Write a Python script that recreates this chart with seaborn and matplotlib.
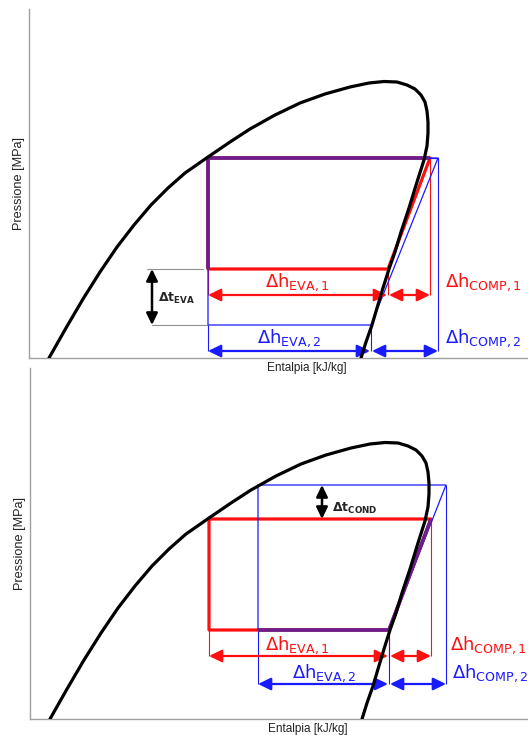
import matplotlib
matplotlib.use("Agg")
import matplotlib.pyplot as plt
import seaborn as sns
import pandas as pd

# ---------------- data (arbitrary enthalpy / pressure units) ----------------
dome_h = [20, 37, 54, 71, 88, 105, 122, 139, 156, 179, 201, 221, 246, 271, 296, 321, 340, 355,
          368, 378, 386, 392, 396, 398, 399, 399, 398, 395, 388, 380, 372, 366, 360, 354, 348,
          343, 337, 332]
dome_p = [0, 30, 59, 86, 111, 133, 153, 170, 185, 201, 216, 229, 243, 255, 264, 271, 275, 276.5,
          276, 273, 269, 263, 256, 247, 236, 225, 212, 198, 176, 150, 126, 106, 89, 70, 50,
          33, 16, 0]

# reference cycle 1 (same in both panels)
cycle1 = dict(h_liq=179, h_vap=359, h_dis=401, p_evap=89, p_cond=200)
# cycle 2, top panel: lower evaporating temperature
cycle2_top = dict(h_liq=179, h_vap=342, h_dis=409, p_evap=33, p_cond=200)
# cycle 2, bottom panel: higher condensing temperature
cycle2_bot = dict(h_liq=228, h_vap=359, h_dis=416, p_evap=89, p_cond=234)

RED = "#ff1010"
BLUE = "#1a1aff"
PURPLE = "#6e1e8c"

sns.set_theme(style="white")
plt.rcParams["font.family"] = ["Liberation Sans", "DejaVu Sans"]
plt.rcParams["mathtext.fontset"] = "dejavusans"

fig = plt.figure(figsize=(5.28, 7.35), dpi=100)
W, H = 528, 735
ax_top = fig.add_axes([29 / W, (H - 358) / H, 499 / W, 349 / H])
ax_bot = fig.add_axes([30 / W, 16 / H, 498 / W, 351 / H])


def cycle_frame(c):
    return pd.DataFrame({
        "h": [c["h_liq"], c["h_liq"], c["h_vap"], c["h_dis"], c["h_liq"]],
        "p": [c["p_cond"], c["p_evap"], c["p_evap"], c["p_cond"], c["p_cond"]],
    })


def vline(ax, h, p0, p1, color, lw=0.8):
    ax.plot([h, h], [p0, p1], color=color, lw=lw, solid_capstyle="butt")


def darrow(ax, x0, y0, x1, y1, color, lw=1.6, ms=11):
    ax.annotate("", xy=(x1, y1), xytext=(x0, y0),
                arrowprops=dict(arrowstyle="<|-|>,head_length=0.7,head_width=0.34",
                                color=color, lw=lw, mutation_scale=ms,
                                shrinkA=0, shrinkB=0), zorder=5)


def base(ax, xmax, ymax):
    ax.set_xlim(0, xmax)
    ax.set_ylim(0, ymax)
    ax.set_xticks([])
    ax.set_yticks([])
    for s in ["top", "right"]:
        ax.spines[s].set_visible(False)
    for s in ["left", "bottom"]:
        ax.spines[s].set_color("#a0a0a0")
        ax.spines[s].set_linewidth(1.0)
    ax.set_xlabel("Entalpia [kJ/kg]", fontsize=8.5, color="#222222")
    ax.set_ylabel("Pressione [MPa]", fontsize=9.2, color="#222222")
    ax.xaxis.set_label_coords(0.557, -0.012)
    ax.yaxis.set_label_coords(-0.008, 0.5)
    ax.patch.set_alpha(0)


def dome(ax):
    sns.lineplot(x=dome_h, y=dome_p, sort=False, estimator=None, color="black",
                 lw=2.3, ax=ax, zorder=6)
    ax.lines[-1].set_solid_joinstyle("round")
    ax.lines[-1].set_solid_capstyle("round")


lab = dict(fontsize=13, va="baseline", ha="left")

# ---------------- top panel ----------------
ax = ax_top
base(ax, 499, 349)
c1, c2 = cycle1, cycle2_top
sns.lineplot(data=cycle_frame(c1), x="h", y="p", sort=False, estimator=None,
             color=RED, lw=2.3, ax=ax, zorder=3)
sns.lineplot(data=cycle_frame(c2), x="h", y="p", sort=False, estimator=None,
             color=BLUE, lw=0.9, ax=ax, zorder=3)
# shared segments (overlap of both cycles)
ax.plot([c1["h_liq"], c1["h_liq"], c1["h_dis"]], [c1["p_evap"], c1["p_cond"], c1["p_cond"]],
        color=PURPLE, lw=2.7, zorder=4, solid_joinstyle="miter", solid_capstyle="butt")
ax.plot([c1["h_dis"], c2["h_dis"]], [c1["p_cond"], c2["p_cond"]], color=BLUE, lw=0.9, zorder=4)
y_r, y_b = 63, 7
vline(ax, c1["h_liq"], c1["p_evap"], y_r, RED)
vline(ax, c1["h_vap"], c1["p_evap"], y_r, RED)
vline(ax, c1["h_dis"], c1["p_cond"], y_r, RED)
vline(ax, c2["h_liq"], c2["p_evap"], y_b, BLUE)
vline(ax, c2["h_vap"], c2["p_evap"], y_b, BLUE)
vline(ax, c2["h_dis"], c2["p_cond"], y_b, BLUE)
darrow(ax, c1["h_liq"], y_r, c1["h_vap"] - 1, y_r, RED)
darrow(ax, c1["h_vap"] + 1, y_r, c1["h_dis"], y_r, RED)
darrow(ax, c2["h_liq"], y_b, c2["h_vap"] - 1, y_b, BLUE)
darrow(ax, c2["h_vap"] + 1, y_b, c2["h_dis"], y_b, BLUE)
# delta t evaporation
ax.plot([118, c1["h_liq"] - 5], [c1["p_evap"], c1["p_evap"]], color="#909090", lw=0.8)
ax.plot([123, c2["h_liq"]], [c2["p_evap"], c2["p_evap"]], color="#909090", lw=0.8)
darrow(ax, 123, c1["p_evap"], 123, c2["p_evap"], "black", lw=1.8, ms=10)
ax.text(129, 56, r"$\mathbf{\Delta t}_{\mathbf{EVA}}$", fontsize=9, va="baseline", ha="left")
ax.text(236, 71, r"$\Delta\mathrm{h}_{\mathrm{EVA,1}}$", color=RED, **lab)
ax.text(416, 71, r"$\Delta\mathrm{h}_{\mathrm{COMP,1}}$", color=RED, **lab)
ax.text(228, 15, r"$\Delta\mathrm{h}_{\mathrm{EVA,2}}$", color=BLUE, **lab)
ax.text(416, 15, r"$\Delta\mathrm{h}_{\mathrm{COMP,2}}$", color=BLUE, **lab)
dome(ax)

# ---------------- bottom panel ----------------
ax = ax_bot
base(ax, 498, 351)
c1, c2 = cycle1, cycle2_bot
sns.lineplot(data=cycle_frame(c1), x="h", y="p", sort=False, estimator=None,
             color=RED, lw=2.3, ax=ax, zorder=3)
sns.lineplot(data=cycle_frame(c2), x="h", y="p", sort=False, estimator=None,
             color=BLUE, lw=0.9, ax=ax, zorder=4)
ax.plot([c2["h_liq"], c1["h_vap"], c1["h_dis"]], [c1["p_evap"], c1["p_evap"], c1["p_cond"]],
        color=PURPLE, lw=2.7, zorder=4, solid_joinstyle="miter", solid_capstyle="butt")
y_r, y_b = 63, 35
vline(ax, c1["h_liq"], c1["p_evap"], y_r, RED)
vline(ax, c1["h_vap"], c1["p_evap"], y_r, RED)
vline(ax, c1["h_dis"], c1["p_cond"], y_r, RED)
vline(ax, c2["h_liq"], c2["p_evap"], y_b, BLUE)
vline(ax, c2["h_vap"], c2["p_evap"], y_b, BLUE)
vline(ax, c2["h_dis"], c2["p_cond"], y_b, BLUE)
darrow(ax, c1["h_liq"], y_r, c1["h_vap"] - 1, y_r, RED)
darrow(ax, c1["h_vap"] + 1, y_r, c1["h_dis"], y_r, RED)
darrow(ax, c2["h_liq"], y_b, c2["h_vap"] - 1, y_b, BLUE)
darrow(ax, c2["h_vap"] + 1, y_b, c2["h_dis"], y_b, BLUE)
darrow(ax, 292, c1["p_cond"], 292, c2["p_cond"], "black", lw=1.8, ms=10)
ax.text(302, 207, r"$\mathbf{\Delta t}_{\mathbf{COND}}$", fontsize=9, va="baseline", ha="left")
ax.text(235, 69, r"$\Delta\mathrm{h}_{\mathrm{EVA,1}}$", color=RED, **lab)
ax.text(420, 69, r"$\Delta\mathrm{h}_{\mathrm{COMP,1}}$", color=RED, **lab)
ax.text(262, 41, r"$\Delta\mathrm{h}_{\mathrm{EVA,2}}$", color=BLUE, **lab)
ax.text(422, 41, r"$\Delta\mathrm{h}_{\mathrm{COMP,2}}$", color=BLUE, **lab)
dome(ax)

fig.savefig("out.png", dpi=100)
